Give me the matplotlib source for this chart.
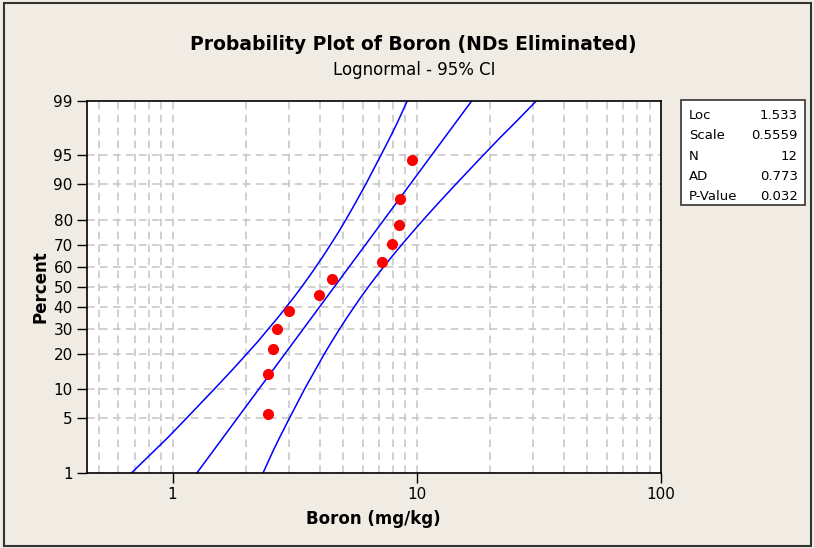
import numpy as np
import matplotlib.pyplot as plt
from matplotlib.patches import Rectangle
from statistics import NormalDist

# data
boron = [2.47, 2.47, 2.57, 2.68, 2.99, 3.97, 4.48, 7.23, 7.94, 8.49, 8.51, 9.57]
percent = [5.6, 13.7, 21.8, 29.8, 37.9, 46.0, 54.0, 62.1, 70.2, 78.2, 86.3, 94.4]

fit_pct = [1, 99]
fit_x = [1.26, 16.8]

band_pct = [1, 2, 3, 5, 10, 15, 20, 25, 30, 35, 40, 45, 50, 55, 60, 65,
            70, 75, 80, 85, 90, 95, 97, 98, 99]
band_lo = [0.68, 0.84, 0.96, 1.14, 1.48, 1.76, 2.01, 2.25, 2.47, 2.70, 2.92,
           3.15, 3.38, 3.62, 3.87, 4.14, 4.43, 4.76, 5.13, 5.58, 6.18, 7.13,
           7.81, 8.33, 9.15]
band_hi = [2.35, 2.58, 2.75, 3.01, 3.47, 3.85, 4.18, 4.51, 4.84, 5.18, 5.54,
           5.92, 6.34, 6.81, 7.34, 7.95, 8.67, 9.55, 10.66, 12.17, 14.44,
           18.7, 22.2, 25.3, 30.9]

ytick_pct = [1, 5, 10, 20, 30, 40, 50, 60, 70, 80, 90, 95, 99]
ygrid_pct = [5, 10, 20, 30, 40, 50, 60, 70, 80, 90, 95]

stat_names = ['Loc', 'Scale', 'N', 'AD', 'P-Value']
stat_vals = ['1.533', '0.5559', '12', '0.773', '0.032']

nd = NormalDist()
def z(p):
    return np.array([nd.inv_cdf(v / 100) for v in p])

bg = '#F0ECE3'
fig = plt.figure(figsize=(8.14, 5.48), dpi=100, facecolor=bg)
W, H = 814, 548
ax = fig.add_axes([86.7 / W, 1 - 472.7 / H, 574 / W, 371.7 / H])

ax.set_xscale('log')
ax.set_xlim(10 ** -0.352, 100)
ax.set_ylim(z([1])[0], z([99])[0])

# grid
gx = [v * m for m in (0.1, 1, 10) for v in range(1, 10)]
gx = [v for v in gx if 0.45 <= v < 100]
for v in gx:
    ax.axvline(v, color='#C4C4C4', lw=1.1, ls=(0, (5, 3.5)), zorder=0)
for v in z(ygrid_pct):
    ax.axhline(v, color='#C4C4C4', lw=1.1, ls=(0, (5, 3.5)), zorder=0)

ax.plot(band_lo, z(band_pct), color='#0000FF', lw=1.1)
ax.plot(band_hi, z(band_pct), color='#0000FF', lw=1.1)
ax.plot(fit_x, z(fit_pct), color='#0000FF', lw=1.1)
ax.plot(boron, z(percent), 'o', color='#FF0000', ms=7, mec='#FF0000')

ax.set_yticks(z(ytick_pct))
ax.set_yticklabels([str(p) for p in ytick_pct])
ax.set_xticks([1, 10, 100])
ax.set_xticklabels(['1', '10', '100'])
ax.xaxis.set_minor_locator(plt.NullLocator())
ax.tick_params(direction='out', length=7, width=1, labelsize=11, pad=3)
for s in ax.spines.values():
    s.set_linewidth(1.2)

ax.set_xlabel('Boron (mg/kg)', fontsize=12, fontweight='bold', labelpad=6)
ax.set_ylabel('Percent', fontsize=12, fontweight='bold', labelpad=3)

fig.text(413 / W, 1 - 45 / H, 'Probability Plot of Boron (NDs Eliminated)',
         ha='center', va='center', fontsize=13.5, fontweight='bold')
fig.text(414 / W, 1 - 70 / H, 'Lognormal - 95% CI',
         ha='center', va='center', fontsize=12)

# stats box
fig.patches.append(Rectangle((681 / W, 1 - 205 / H), 124 / W, 105 / H,
                             transform=fig.transFigure, facecolor='white',
                             edgecolor='#333333', lw=1.2))
for i, (n, v) in enumerate(zip(stat_names, stat_vals)):
    y = 1 - (115.5 + 20.3 * i) / H
    fig.text(689 / W, y, n, ha='left', va='center', fontsize=9.5)
    fig.text(798 / W, y, v, ha='right', va='center', fontsize=9.5)

# outer frame
fig.patches.append(Rectangle((4 / W, 2 / H), 807 / W, 543 / H,
                             transform=fig.transFigure, facecolor='none',
                             edgecolor='#333333', lw=1.5))

fig.savefig('out.png', dpi=100, facecolor=bg)
